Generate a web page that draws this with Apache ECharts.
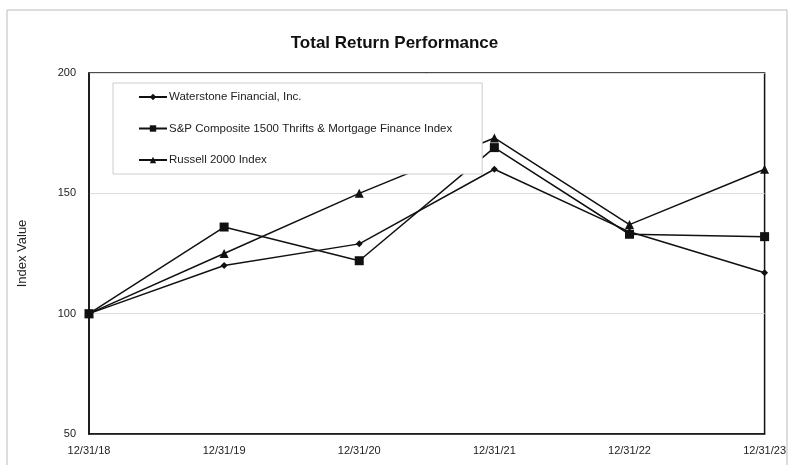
<!DOCTYPE html>
<html>
<head>
<meta charset="utf-8">
<script src="https://cdn.jsdelivr.net/npm/echarts@6/dist/echarts.min.js"></script>
<style>
  html, body { margin: 0; padding: 0; background: #fff; }
  #plot { width: 789px; height: 465px; }
</style>
</head>
<body>
<div id="plot"></div>
<script>
const dates = ['12/31/18', '12/31/19', '12/31/20', '12/31/21', '12/31/22', '12/31/23'];
const waterstone = [100, 120, 129, 160, 134, 117];
const spThrifts = [100, 136, 122, 169, 133, 132];
const russell2000 = [100, 125, 150, 173, 137, 160];

const chart = echarts.init(document.getElementById('plot'));
const font = 'Liberation Sans, Arial, sans-serif';

function lineSeries(name, data, symbol, size) {
    return {
        name: name,
        type: 'line',
        data: data,
        symbol: symbol,
        symbolSize: size,
        lineStyle: { color: '#111', width: 1.5 },
        itemStyle: { color: '#111' }
    };
}

chart.setOption({
    animation: false,
    title: {
        text: 'Total Return Performance',
        left: 'center',
        top: 30,
        textStyle: { fontFamily: font, fontSize: 17, fontWeight: 'bold', color: '#111' }
    },
    legend: {
        orient: 'vertical',
        left: 113,
        top: 83,
        padding: [8, 30, 8, 25],
        itemGap: 19.5,
        itemWidth: 28,
        itemHeight: 8,
        backgroundColor: '#fff',
        borderColor: '#ccc',
        borderWidth: 1,
        textStyle: { fontFamily: font, fontSize: 11.5, color: '#222', padding: [0, 0, 0, -3] },
        data: ['Waterstone Financial, Inc.', 'S&P Composite 1500 Thrifts & Mortgage Finance Index', 'Russell 2000 Index']
    },
    grid: {
        left: 89, right: 24, top: 73, bottom: 31,
        show: true, borderColor: '#111', borderWidth: 1.5
    },
    xAxis: {
        type: 'category',
        data: dates,
        boundaryGap: false,
        axisLine: { lineStyle: { color: '#111', width: 1.5 } },
        axisTick: { show: false },
        axisLabel: { fontFamily: font, fontSize: 11, color: '#222', margin: 11, showMaxLabel: true, showMinLabel: true },
        splitLine: { show: false }
    },
    yAxis: {
        type: 'value',
        min: 50, max: 200, interval: 50,
        name: 'Index Value',
        nameLocation: 'middle',
        nameGap: 60,
        nameTextStyle: { fontFamily: font, fontSize: 13, color: '#222' },
        axisLine: { show: true, lineStyle: { color: '#111', width: 1.5 } },
        axisTick: { show: false },
        axisLabel: { fontFamily: font, fontSize: 11, color: '#222', margin: 13 },
        splitLine: { lineStyle: { color: '#ddd', width: 1 } }
    },
    series: [
        lineSeries('Waterstone Financial, Inc.', waterstone, 'diamond', 7),
        lineSeries('S&P Composite 1500 Thrifts & Mortgage Finance Index', spThrifts, 'rect', 9),
        lineSeries('Russell 2000 Index', russell2000, 'triangle', 9)
    ],
    graphic: [{
        type: 'rect',
        shape: { x: 7, y: 10, width: 780, height: 460 },
        style: { fill: 'none', stroke: '#bbb', lineWidth: 1 },
        silent: true
    }]
});
</script>
</body>
</html>
